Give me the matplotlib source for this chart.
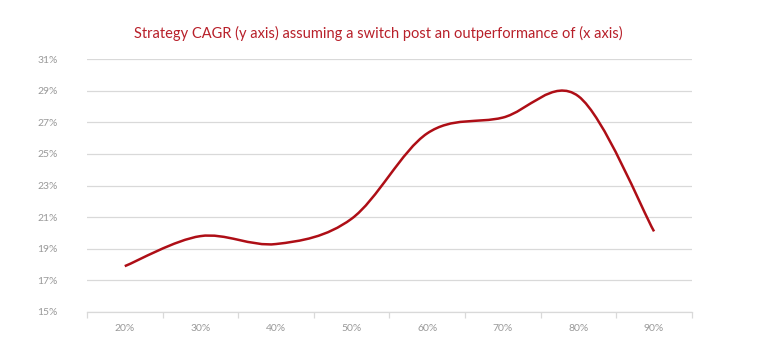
import numpy as np
import matplotlib
matplotlib.use("Agg")
import matplotlib.pyplot as plt
from matplotlib.path import Path
from matplotlib.patches import PathPatch

categories = ["20%", "30%", "40%", "50%", "60%", "70%", "80%", "90%"]
cagr = [17.9, 19.8, 19.3, 20.9, 26.3, 27.3, 28.65, 20.1]
y_ticks = [15, 17, 19, 21, 23, 25, 27, 29, 31]

red_line = "#AE0E16"
red_title = "#B8202A"
grey_txt = "#999999"
grid_col = "#D9D9D9"

plt.rcParams['font.family'] = ['Lato', 'DejaVu Sans']

fig = plt.figure(figsize=(7.73, 3.56), dpi=100)
ax = fig.add_axes([0.1125, 0.1236, 0.7825, 0.7104])

# excel style smoothed line: cubic bezier through the points
x = np.arange(len(cagr), dtype=float)
y = np.array(cagr, dtype=float)
verts = [(x[0], y[0])]
codes = [Path.MOVETO]
n = len(x)
for i in range(n - 1):
    x0, y0 = (x[i - 1], y[i - 1]) if i > 0 else (x[i], y[i])
    x3, y3 = (x[i + 2], y[i + 2]) if i + 2 < n else (x[i + 1], y[i + 1])
    c1 = (x[i] + (x[i + 1] - x0) / 6, y[i] + (y[i + 1] - y0) / 6)
    c2 = (x[i + 1] - (x3 - x[i]) / 6, y[i + 1] - (y3 - y[i]) / 6)
    verts += [c1, c2, (x[i + 1], y[i + 1])]
    codes += [Path.CURVE4, Path.CURVE4, Path.CURVE4]
ax.add_patch(PathPatch(Path(verts, codes), facecolor="none", edgecolor=red_line,
                       lw=1.8, capstyle="butt", zorder=3))

ax.set_xlim(-0.5, len(categories) - 0.5)
ax.set_ylim(15, 31)
ax.set_yticks(y_ticks)
ax.set_yticklabels([f"{v}%" for v in y_ticks])
ax.set_xticks(x)
ax.set_xticklabels(categories)
ax.set_xticks(np.arange(-0.5, len(categories)), minor=True)

ax.grid(axis="y", color=grid_col, lw=0.9)
ax.set_axisbelow(True)
for s in ["top", "right", "left"]:
    ax.spines[s].set_visible(False)
ax.spines["bottom"].set_color(grid_col)
ax.spines["bottom"].set_linewidth(0.9)

ax.tick_params(axis="y", length=0, pad=21, labelsize=7.5, labelcolor=grey_txt)
ax.tick_params(axis="x", which="major", length=0, pad=9, labelsize=7.5, labelcolor=grey_txt)
ax.tick_params(axis="x", which="minor", length=4, width=0.9, color=grid_col)

fig.text(0.49, 0.905, "Strategy CAGR (y axis) assuming a switch post an outperformance of (x axis)",
         ha="center", va="center", color=red_title, fontsize=10.5)

fig.savefig("out.png", dpi=100, facecolor="white")
